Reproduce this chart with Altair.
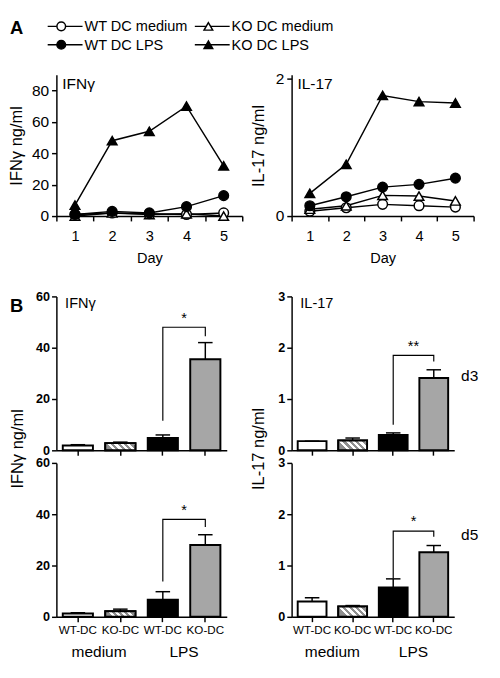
import altair as alt
import pandas as pd

FONT = "Liberation Sans, Arial, sans-serif"

# ---------------- Panel A data (time course) ----------------
days = [1, 2, 3, 4, 5]
series_names = ["WT DC medium", "KO DC medium", "WT DC LPS", "KO DC LPS"]
series_genotype = ["WT", "KO", "WT", "KO"]
series_stim = ["medium", "medium", "LPS", "LPS"]

ifng_wt_medium = [1.0, 2.0, 1.5, 1.0, 2.0]
ifng_ko_medium = [0.0, 2.0, 1.0, 1.5, 0.0]
ifng_wt_lps = [1.0, 3.0, 2.0, 6.0, 13.0]
ifng_ko_lps = [7.0, 48.0, 54.0, 70.0, 32.0]

il17_wt_medium = [0.07, 0.12, 0.17, 0.15, 0.13]
il17_ko_medium = [0.10, 0.15, 0.30, 0.29, 0.22]
il17_wt_lps = [0.15, 0.28, 0.42, 0.46, 0.55]
il17_ko_lps = [0.33, 0.75, 1.75, 1.66, 1.64]

# ---------------- Panel B data (bars) ----------------
bar_groups = ["WT-DC medium", "KO-DC medium", "WT-DC LPS", "KO-DC LPS"]

ifng_d3_mean = [1.9, 2.8, 4.8, 35.5]
ifng_d3_sem = [0.3, 0.4, 1.2, 6.5]
il17_d3_mean = [0.18, 0.19, 0.30, 1.41]
il17_d3_sem = [0.0, 0.05, 0.04, 0.16]
ifng_d5_mean = [1.3, 2.2, 6.7, 28.0]
ifng_d5_sem = [0.3, 0.8, 3.1, 4.0]
il17_d5_mean = [0.30, 0.20, 0.57, 1.26]
il17_d5_sem = [0.07, 0.02, 0.17, 0.13]

# significance brackets: [left foot, top, right foot], (label, label height)
ifng_d3_bracket = [11.5, 48.0, 44.5]
ifng_d3_star = ("*", 51.5)
il17_d3_bracket = [0.50, 1.85, 1.73]
il17_d3_star = ("**", 2.03)
ifng_d5_bracket = [13.8, 38.0, 35.0]
ifng_d5_star = ("*", 41.5)
il17_d5_bracket = [0.75, 1.67, 1.56]
il17_d5_star = ("*", 1.86)

# ---------------- helpers ----------------
fill_scale = alt.Scale(domain=["medium", "LPS"], range=["white", "black"])
shape_scale = alt.Scale(domain=["WT", "KO"], range=["circle", "triangle-up"])
bar_color_scale = alt.Scale(domain=bar_groups, range=["white", "white", "black", "#a6a6a6"])


def line_layer(vals, ymax, yticks, ytitle, ptitle, width, title_pad):
    rows = []
    for name, g, s, v in zip(series_names, series_genotype, series_stim, vals):
        for d, val in zip(days, v):
            rows.append(dict(day=d, value=val, series=name, genotype=g, stim=s))
    df = pd.DataFrame(rows)
    x = alt.X("day:Q", scale=alt.Scale(domain=[0.5, 5.5], nice=False, zero=False),
              axis=alt.Axis(values=[0.5, 1.5, 2.5, 3.5, 4.5, 5.5],
                            labelExpr="datum.value < 5 ? format(datum.value + 0.5, 'd') : ''",
                            labelOffset=width / 10.0, labelFlush=False, labelOverlap=False,
                            tickSize=5, labelPadding=8, labelFontSize=15, labelFont=FONT,
                            title="Day", titleFontSize=15, titlePadding=8, titleFont=FONT))
    y = alt.Y("value:Q", scale=alt.Scale(domain=[0, ymax], nice=False),
              axis=alt.Axis(values=yticks, format="d", tickSize=5, labelFontSize=16,
                            labelFont=FONT, labelPadding=3, title=ytitle, titleFontSize=17,
                            titlePadding=title_pad, titleFont=FONT))
    base = alt.Chart(df)
    lines = base.mark_line(color="black", strokeWidth=1.5).encode(x=x, y=y, detail="series:N")
    pts = base.mark_point(stroke="black", strokeWidth=1.5, opacity=1, size=100).encode(
        x=x, y=y,
        fill=alt.Fill("stim:N", scale=fill_scale, legend=None),
        shape=alt.Shape("genotype:N", scale=shape_scale, legend=None))
    ttl = alt.Chart(pd.DataFrame({"t": [ptitle]})).mark_text(
        align="left", baseline="top", fontSize=16, font=FONT).encode(
        text="t:N", x=alt.value(6), y=alt.value(2))
    return alt.layer(lines, pts, ttl)


def bar_panel(means, sems, bracket, star, ymax, yticks, width, height, gap, show_labels,
              ytitle=None, title_y=None, title_pad=10, ptitle=None, day_label=None,
              day_y=0, letter=None):
    pi, po = 0.29, 0.15
    step = width / (4 - pi + 2 * po)
    df = pd.DataFrame({"grp": bar_groups, "mean": means,
                       "top": [m + s for m, s in zip(means, sems)]})
    xaxis = alt.Axis(title=None, labels=show_labels, labelExpr="split(datum.value, ' ')[0]",
                     labelAngle=0, tickSize=5, labelPadding=3, labelFontSize=12, labelFont=FONT)
    x = alt.X("grp:N", sort=bar_groups,
              scale=alt.Scale(domain=bar_groups, paddingInner=pi, paddingOuter=po), axis=xaxis)
    yaxis_kw = dict(values=yticks, format="d", tickSize=5, labelFontSize=13, labelFont=FONT,
                    labelFontWeight="bold", labelPadding=2)
    if ytitle:
        yaxis_kw.update(title=ytitle, titleFontSize=17, titleFont=FONT, titlePadding=title_pad,
                        titleY=title_y)
    else:
        yaxis_kw.update(title=None)
    yscale = alt.Scale(domain=[0, ymax], nice=False, range=[height + gap, gap])

    def Y(f):
        return alt.Y(f, scale=yscale, axis=alt.Axis(**yaxis_kw))

    bars = alt.Chart(df).mark_bar(stroke="black", strokeWidth=2).encode(
        x=x, y=Y("mean:Q"),
        color=alt.Color("grp:N", scale=bar_color_scale, legend=None))
    # hatched bar (KO-DC medium)
    bw = step * (1 - pi)
    hpx = max(means[1] / ymax * height, 1.0)
    b = min(hpx / bw, 1.0)
    stops = []
    n = 5
    for i in range(n):
        a0, a1, a2 = i / n, (i + 0.5) / n, (i + 1) / n
        stops += [alt.GradientStop(offset=a0, color="#8f8f8f"),
                  alt.GradientStop(offset=a1, color="#8f8f8f"),
                  alt.GradientStop(offset=a1, color="white"),
                  alt.GradientStop(offset=a2, color="white")]
    grad = alt.LinearGradient(gradient="linear", stops=stops, x1=0, y1=b, x2=1, y2=0)
    hatch = alt.Chart(df).transform_filter(alt.datum.grp == "KO-DC medium").mark_bar(
        stroke="black", strokeWidth=2, fill=grad).encode(x=x, y=Y("mean:Q"))
    err = alt.Chart(df).mark_rule(color="black", strokeWidth=1.5).encode(
        x=x, y=Y("mean:Q"), y2="top:Q")
    cap = alt.Chart(df).mark_tick(orient="horizontal", size=15, thickness=1.5,
                                  color="black", opacity=1).encode(x=x, y=Y("top:Q"))
    br = pd.DataFrame({"grp": ["WT-DC LPS", "WT-DC LPS", "KO-DC LPS", "KO-DC LPS"],
                       "v": [bracket[0], bracket[1], bracket[1], bracket[2]],
                       "k": [0, 1, 2, 3]})
    brl = alt.Chart(br).mark_line(color="black", strokeWidth=1.2).encode(
        x=x, y=Y("v:Q"), order="k:Q")
    st = alt.Chart(pd.DataFrame({"grp": ["WT-DC LPS"], "v": [star[1]], "s": [star[0]]})).mark_text(
        dx=step / 2, fontSize=15, font=FONT, baseline="middle").encode(
        x=x, y=Y("v:Q"), text="s:N")
    layers = [bars, hatch, err, cap, brl, st]
    if ptitle:
        layers.append(alt.Chart(pd.DataFrame({"t": [ptitle]})).mark_text(
            align="left", baseline="top", fontSize=15, font=FONT).encode(
            text="t:N", x=alt.value(9), y=alt.value(gap)))
    if day_label:
        layers.append(alt.Chart(pd.DataFrame({"t": [day_label]})).mark_text(
            align="left", baseline="middle", fontSize=16, font=FONT).encode(
            text="t:N", x=alt.value(width + 7), y=alt.value(gap + day_y)))
    if letter:
        layers.append(alt.Chart(pd.DataFrame({"t": [letter]})).mark_text(
            align="left", baseline="top", fontSize=19, fontWeight="bold", font=FONT).encode(
            text="t:N", x=alt.value(-48), y=alt.value(gap + 1)))
    if show_labels:
        layers.append(alt.Chart(pd.DataFrame({"grp": ["WT-DC medium", "WT-DC LPS"],
                                              "t": ["medium", "LPS"]})).mark_text(
            dx=step / 2, baseline="middle", fontSize=16, font=FONT).encode(
            x=x, text="t:N", y=alt.value(height + gap + 37)))
    return alt.layer(*layers).properties(width=width, height=height + gap)


# ---------------- legend (drawn above panel A, left) ----------------
leg = pd.DataFrame({"series": series_names, "genotype": series_genotype, "stim": series_stim})
lx = alt.X("genotype:N", scale=alt.Scale(type="point", domain=["WT", "KO"], range=[5, 157],
                                         padding=0), axis=None)
ly = alt.Y("stim:N", scale=alt.Scale(type="point", domain=["medium", "LPS"], range=[-50, -31],
                                     padding=0), axis=None)
leg_line = alt.Chart(leg).mark_tick(orient="horizontal", size=36, thickness=1.5, xOffset=4,
                                    color="black", opacity=1).encode(x=lx, y=ly)
leg_pts = alt.Chart(leg).mark_point(stroke="black", strokeWidth=1.5, opacity=1, size=80).encode(
    x=lx, y=ly, fill=alt.Fill("stim:N", scale=fill_scale, legend=None),
    shape=alt.Shape("genotype:N", scale=shape_scale, legend=None))
leg_txt = alt.Chart(leg).mark_text(align="left", dx=24, fontSize=15, font=FONT,
                                   baseline="middle").encode(x=lx, y=ly, text="series:N")
leg_A = alt.Chart(pd.DataFrame({"t": ["A"]})).mark_text(
    align="left", baseline="top", fontSize=19, fontWeight="bold", font=FONT).encode(
    text="t:N", x=alt.value(-48), y=alt.value(-57))
legend_layer = alt.layer(leg_line, leg_pts, leg_txt, leg_A)

# ---------------- panels ----------------
LH = 146
lineL = alt.layer(
    line_layer([ifng_wt_medium, ifng_ko_medium, ifng_wt_lps, ifng_ko_lps], 90,
               [0, 20, 40, 60, 80], "IFNγ ng/ml", "IFNγ", 192, 6),
    legend_layer
).resolve_scale(x="independent", y="independent").properties(width=192, height=LH)
lineR = line_layer([il17_wt_medium, il17_ko_medium, il17_wt_lps, il17_ko_lps], 2.05,
                   [0, 1, 2], "IL-17 ng/ml", "IL-17", 188, 8).properties(width=188, height=LH)

H = 159
GAP = 70
TL = bar_panel(ifng_d3_mean, ifng_d3_sem, ifng_d3_bracket, ifng_d3_star, 60, [0, 20, 40, 60],
               176, H, GAP, False, ytitle="IFNγ ng/ml", title_y=GAP + H - 2, title_pad=10,
               ptitle="IFNγ", letter="B")
TR = bar_panel(il17_d3_mean, il17_d3_sem, il17_d3_bracket, il17_d3_star, 3, [0, 1, 2, 3],
               168, H, GAP, False, ytitle="IL-17 ng/ml", title_y=GAP + H - 2, title_pad=11,
               ptitle="IL-17", day_label="d3", day_y=82)
BL = bar_panel(ifng_d5_mean, ifng_d5_sem, ifng_d5_bracket, ifng_d5_star, 60, [0, 20, 40, 60],
               176, H, 0, True)
BR = bar_panel(il17_d5_mean, il17_d5_sem, il17_d5_bracket, il17_d5_star, 3, [0, 1, 2, 3],
               168, H, 0, True, day_label="d5", day_y=75)

chart = alt.concat(lineL, lineR, TL, TR, BL, BR, columns=2,
                   spacing={"row": 13, "column": 51}, bounds="flush", align="each"
                   ).properties(padding=0)
chart = chart.configure_axis(
    domainColor="black", domainWidth=1.5, tickColor="black", tickWidth=1.5,
    labelColor="black", titleColor="black", grid=False, titleFontWeight="normal"
).configure_view(stroke=None)

chart.save("out.html", embed_options={"renderer": "svg", "actions": False})
